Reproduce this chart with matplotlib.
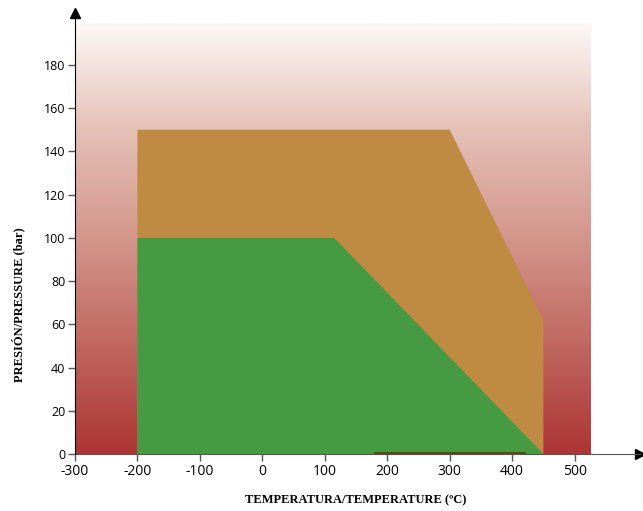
import numpy as np
import matplotlib.pyplot as plt
from matplotlib.colors import LinearSegmentedColormap

# Operating envelope (temperature °C, pressure bar)
outer_t = [-200, -200, 300, 450, 450]
outer_p = [0, 150, 150, 62, 0]
inner_t = [-200, -200, 115, 450]
inner_p = [0, 100, 100, 0]

x_ticks = [-300, -200, -100, 0, 100, 200, 300, 400, 500]
y_ticks = [0, 20, 40, 60, 80, 100, 120, 140, 160, 180]

fig = plt.figure(figsize=(6.43, 5.11), dpi=100)
ax = fig.add_axes([0.1166, 0.1115, 0.879, 0.863])

# background gradient white -> red
cmap = LinearSegmentedColormap.from_list(
    'bg', [(0.0, '#ad3535'), (0.3, '#c47068'), (0.5, '#d3968b'),
           (0.75, '#e4c0b6'), (1.0, '#fdf8f7')])
grad = np.linspace(0, 1, 256).reshape(-1, 1)
ax.imshow(grad, extent=[-300, 525, 0, 199], origin='lower', cmap=cmap,
          aspect='auto', zorder=0)

ax.fill(outer_t, outer_p, color='#bf8a42', lw=0, zorder=1)
ax.fill(inner_t, inner_p, color='#469a42', lw=0, zorder=2)
ax.plot([180, 420], [0.4, 0.4], color='#5a3a10', lw=1.2, zorder=3)

ax.set_xlim(-300, 605)
ax.set_ylim(0, 204)
ax.set_xticks(x_ticks)
ax.set_yticks(y_ticks)
ax.set_xticklabels([str(v) for v in x_ticks], fontsize=10, family='Open Sans')
ax.set_yticklabels([str(v) for v in y_ticks], fontsize=9, family='Open Sans')
ax.tick_params(direction='out', length=5, width=1, color='#555555', pad=2)

for s in ['top', 'right']:
    ax.spines[s].set_visible(False)
ax.spines['left'].set_color('black')
ax.spines['bottom'].set_color('#555555')
ax.spines['left'].set_zorder(5)

# arrow heads at the ends of the axes
ax.plot(1, 0, '>', color='black', ms=7, transform=ax.transAxes, clip_on=False)
ax.plot(0, 1, '^', color='black', ms=7, transform=ax.transAxes, clip_on=False)

fig.text(356 / 643, 1 - 500 / 511, 'TEMPERATURA/TEMPERATURE (ºC)',
         family='Liberation Serif', fontweight='bold', fontsize=9,
         ha='center', va='center')
fig.text(18 / 643, 1 - 305 / 511, 'PRESIÓN/PRESSURE (bar)',
         family='Liberation Serif', fontweight='bold', fontsize=9,
         ha='center', va='center', rotation=90)

fig.savefig('out.png', dpi=100)
